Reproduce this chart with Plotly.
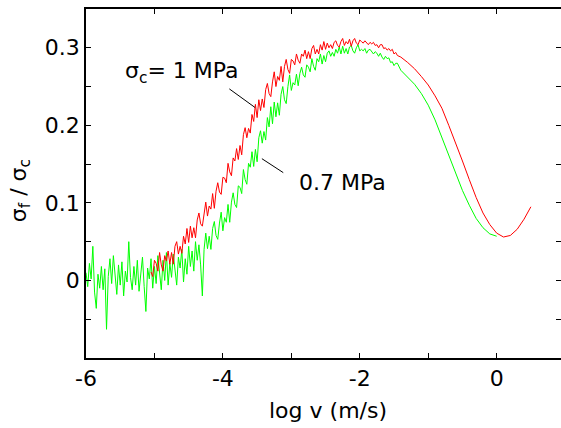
import plotly.graph_objects as go

# ---- data ----
# sampling positions (log v) of the noisy, low-speed part of both records
noisy_x = [-6.000, -5.975, -5.950, -5.925, -5.900, -5.875, -5.850, -5.825, -5.800, -5.775,
           -5.750, -5.725, -5.700, -5.675, -5.650, -5.625, -5.600, -5.575, -5.550, -5.525,
           -5.500, -5.475, -5.450, -5.425, -5.400, -5.375, -5.350, -5.325, -5.300, -5.275,
           -5.250, -5.225, -5.200, -5.175, -5.150, -5.125, -5.100, -5.075, -5.050, -5.025,
           -5.000, -4.975, -4.950, -4.925, -4.900, -4.875, -4.850, -4.825, -4.800, -4.775,
           -4.750, -4.725, -4.700, -4.675, -4.650, -4.625, -4.600, -4.575, -4.550, -4.525,
           -4.500, -4.475, -4.450, -4.425, -4.400, -4.375, -4.350, -4.325, -4.300, -4.275,
           -4.250, -4.225, -4.200, -4.175, -4.150, -4.125, -4.100, -4.075, -4.050, -4.025,
           -4.000, -3.975, -3.950, -3.925, -3.900, -3.875, -3.850, -3.825, -3.800, -3.775,
           -3.750, -3.725, -3.700, -3.675, -3.650, -3.625, -3.600, -3.575, -3.550, -3.525,
           -3.500, -3.475, -3.450, -3.425, -3.400, -3.375, -3.350, -3.325, -3.300, -3.275,
           -3.250, -3.225, -3.200, -3.175, -3.150, -3.125, -3.100, -3.075, -3.050, -3.025,
           -3.000, -2.975, -2.950, -2.925, -2.900, -2.875, -2.850, -2.825, -2.800, -2.775,
           -2.750, -2.725, -2.700, -2.675, -2.650, -2.625, -2.600, -2.575, -2.550, -2.525,
           -2.500, -2.475, -2.450, -2.425, -2.400, -2.375, -2.350, -2.325, -2.300, -2.275,
           -2.250, -2.225, -2.200, -2.175, -2.150, -2.125, -2.100, -2.075, -2.050, -2.025,
           -2.000, -1.975, -1.950, -1.925, -1.900, -1.875, -1.850, -1.825, -1.800, -1.775,
           -1.750, -1.725, -1.700, -1.675, -1.650, -1.625, -1.600, -1.575, -1.550, -1.525,
           -1.500, -1.475, -1.450]

# sigma_c = 0.7 MPa (green), noisy part on noisy_x
green_noisy_y = [0.010, -0.008, 0.022, 0.002, 0.044, -0.015, -0.036, 0.008, -0.010, 0.018,
                 -0.012, 0.015, -0.063, 0.005, 0.028, -0.004, 0.032, 0.010, -0.018, 0.020,
                 -0.006, 0.024, -0.020, 0.012, -0.002, 0.050, 0.004, -0.012, 0.018, -0.006,
                 0.026, -0.014, 0.010, 0.030, -0.008, -0.040, 0.016, 0.002, 0.028, -0.010,
                 0.018, -0.004, 0.032, 0.006, -0.012, 0.026, 0.000, 0.036, -0.006, 0.022,
                 0.004, 0.034, 0.012, -0.006, 0.030, 0.016, 0.040, -0.002, 0.028, 0.008,
                 0.044, 0.018, 0.038, 0.012, 0.050, 0.026, 0.046, 0.020, -0.020, 0.040,
                 0.061, 0.041, 0.057, 0.040, 0.067, 0.076, 0.058, 0.053, 0.074, 0.088,
                 0.064, 0.081, 0.075, 0.098, 0.075, 0.101, 0.113, 0.098, 0.094, 0.122,
                 0.120, 0.112, 0.143, 0.130, 0.124, 0.151, 0.146, 0.166, 0.147, 0.169,
                 0.153, 0.184, 0.193, 0.177, 0.192, 0.181, 0.210, 0.198, 0.224, 0.202,
                 0.230, 0.211, 0.229, 0.213, 0.240, 0.250, 0.233, 0.228, 0.250, 0.265,
                 0.245, 0.255, 0.252, 0.266, 0.251, 0.267, 0.275, 0.265, 0.262, 0.278,
                 0.275, 0.269, 0.286, 0.276, 0.271, 0.286, 0.282, 0.292, 0.279, 0.290,
                 0.282, 0.293, 0.296, 0.289, 0.294, 0.289, 0.298, 0.293, 0.301, 0.292,
                 0.302, 0.293, 0.299, 0.292, 0.301, 0.303, 0.296, 0.293, 0.300, 0.304,
                 0.296, 0.298, 0.296, 0.299, 0.293, 0.297, 0.298, 0.294, 0.292, 0.295,
                 0.293, 0.289, 0.293, 0.288, 0.285, 0.289, 0.286, 0.287, 0.281, 0.282,
                 0.277, 0.280, 0.280]
# smooth, high-speed part
green_smooth_x = [-1.40, -1.30, -1.20, -1.10, -1.00, -0.90, -0.80, -0.70, -0.60, -0.50,
                  -0.40, -0.30, -0.20, -0.10, 0.00]
green_smooth_y = [0.271, 0.262, 0.253, 0.241, 0.226, 0.207, 0.184, 0.160, 0.137, 0.116,
                  0.097, 0.080, 0.068, 0.060, 0.057]

# sigma_c = 1 MPa (red): record starts at log v = -5.05 (noisy_x[38])
red_start = 38
red_noisy_y = [0.011, 0.005, 0.026, 0.022, 0.012, 0.036, 0.020, 0.012, 0.032, 0.025,
               0.038, 0.021, 0.036, 0.021, 0.044, 0.050, 0.034, 0.044, 0.035, 0.057,
               0.047, 0.067, 0.049, 0.070, 0.055, 0.068, 0.055, 0.078, 0.087, 0.073,
               0.070, 0.089, 0.101, 0.083, 0.096, 0.092, 0.112, 0.093, 0.115, 0.126,
               0.114, 0.111, 0.133, 0.132, 0.126, 0.151, 0.140, 0.135, 0.158, 0.154,
               0.170, 0.156, 0.174, 0.162, 0.188, 0.197, 0.184, 0.196, 0.190, 0.214,
               0.205, 0.227, 0.210, 0.233, 0.219, 0.234, 0.223, 0.246, 0.254, 0.241,
               0.237, 0.256, 0.269, 0.250, 0.263, 0.258, 0.276, 0.256, 0.276, 0.285,
               0.272, 0.267, 0.285, 0.283, 0.278, 0.292, 0.284, 0.280, 0.292, 0.289,
               0.297, 0.286, 0.295, 0.286, 0.299, 0.303, 0.292, 0.298, 0.292, 0.304,
               0.297, 0.308, 0.298, 0.306, 0.300, 0.304, 0.299, 0.307, 0.309, 0.303,
               0.301, 0.308, 0.312, 0.303, 0.308, 0.305, 0.311, 0.302, 0.309, 0.312,
               0.306, 0.304, 0.310, 0.308, 0.306, 0.309, 0.306, 0.304, 0.307, 0.305,
               0.307, 0.303, 0.304, 0.300, 0.304, 0.304, 0.299, 0.300, 0.297, 0.299,
               0.296, 0.298, 0.292, 0.294, 0.290]
red_smooth_x = [-1.40, -1.30, -1.20, -1.10, -1.00, -0.90, -0.80, -0.70, -0.60, -0.50,
                -0.40, -0.30, -0.20, -0.10, 0.00, 0.10, 0.20, 0.30, 0.40, 0.50]
red_smooth_y = [0.288, 0.281, 0.273, 0.263, 0.252, 0.238, 0.222, 0.200, 0.178, 0.154,
                0.130, 0.107, 0.087, 0.072, 0.061, 0.056, 0.058, 0.066, 0.079, 0.095]

# labelled ticks and the unlabelled intermediate ticks
x_tick_vals = [-6, -4, -2, 0]
x_tick_text = ["-6", "-4", "-2", "0"]
x_minor_vals = [-5, -3, -1]
y_tick_vals = [0, 0.1, 0.2, 0.3]
y_tick_text = ["0", "0.1", "0.2", "0.3"]
y_minor_vals = [-0.05, 0.05, 0.15, 0.25]
y_all_vals = [-0.05, 0, 0.05, 0.1, 0.15, 0.2, 0.25, 0.3]

FONT = "DejaVu Sans"
Y_RANGE = [-0.1, 0.35]

green_x = noisy_x + green_smooth_x
green_y = green_noisy_y + green_smooth_y
red_x = noisy_x[red_start:] + red_smooth_x
red_y = red_noisy_y + red_smooth_y

fig = go.Figure()
fig.add_trace(go.Scatter(x=green_x, y=green_y, mode="lines",
                         line=dict(color="#00ff00", width=1), name="0.7 MPa"))
fig.add_trace(go.Scatter(x=red_x, y=red_y, mode="lines",
                         line=dict(color="#ff0000", width=1), name="1 MPa"))

tick_common = dict(showgrid=False, zeroline=False, ticks="inside", ticklen=5,
                   tickwidth=1, tickcolor="black", automargin=False,
                   tickfont=dict(family=FONT, size=22, color="black"))
minor_common = dict(ticks="inside", ticklen=5, tickwidth=1, tickcolor="black",
                    showgrid=False)

fig.update_layout(
    xaxis=dict(range=[-6, 0.94], tickvals=x_tick_vals, ticktext=x_tick_text,
               minor=dict(tickvals=x_minor_vals, **minor_common),
               showline=True, linecolor="black", linewidth=1.5, mirror="ticks",
               **tick_common),
    yaxis=dict(range=Y_RANGE, tickvals=y_tick_vals, ticktext=y_tick_text,
               minor=dict(tickvals=y_minor_vals, **minor_common),
               showline=True, linecolor="black", linewidth=1.5, mirror=False,
               **tick_common),
    # right-hand tick marks only (the right frame edge lies outside the picture)
    yaxis2=dict(range=Y_RANGE, tickvals=y_all_vals, showticklabels=False,
                overlaying="y", side="right", showline=False, **tick_common),
)
# invisible helper so that yaxis2 is drawn
fig.add_trace(go.Scatter(x=[None], y=[None], yaxis="y2", showlegend=False,
                         hoverinfo="skip"))

# pointer lines
fig.add_shape(type="line", x0=-3.906, y0=0.247, x1=-3.53, y1=0.223,
              xref="x", yref="y", line=dict(color="black", width=1))
fig.add_shape(type="line", x0=-3.43, y0=0.157, x1=-3.118, y1=0.139,
              xref="x", yref="y", line=dict(color="black", width=1))

fig.add_annotation(x=-4.60, y=0.268, xref="x", yref="y", showarrow=False,
                   text="σ<sub>c</sub>= 1 MPa", xanchor="center", yanchor="middle",
                   font=dict(family=FONT, size=22, color="black"))
fig.add_annotation(x=-2.253, y=0.126, xref="x", yref="y", showarrow=False,
                   text="0.7 MPa", xanchor="center", yanchor="middle",
                   font=dict(family=FONT, size=22, color="black"))

# axis titles
fig.add_annotation(x=0, y=0.478, xref="paper", yref="paper", xshift=-66,
                   xanchor="center", yanchor="middle",
                   showarrow=False, textangle=-90,
                   text="σ<sub>f</sub> / σ<sub>c</sub>",
                   font=dict(family=FONT, size=22, color="black"))
fig.add_annotation(x=0.509, y=0, xref="paper", yref="paper", yshift=-52,
                   xanchor="center", yanchor="middle",
                   showarrow=False, text="log v (m/s)",
                   font=dict(family=FONT, size=22, color="black"))

fig.update_layout(width=561, height=428, showlegend=False,
                  margin=dict(l=86, r=0, t=9, b=70, autoexpand=False),
                  paper_bgcolor="white", plot_bgcolor="white")

fig.write_html("out.html",
               config={"displayModeBar": False},
               post_script="document.body.style.margin='0';"
                           "document.body.style.padding='0';"
                           "document.body.style.overflow='hidden';"
                           "document.documentElement.style.overflow='hidden';")
